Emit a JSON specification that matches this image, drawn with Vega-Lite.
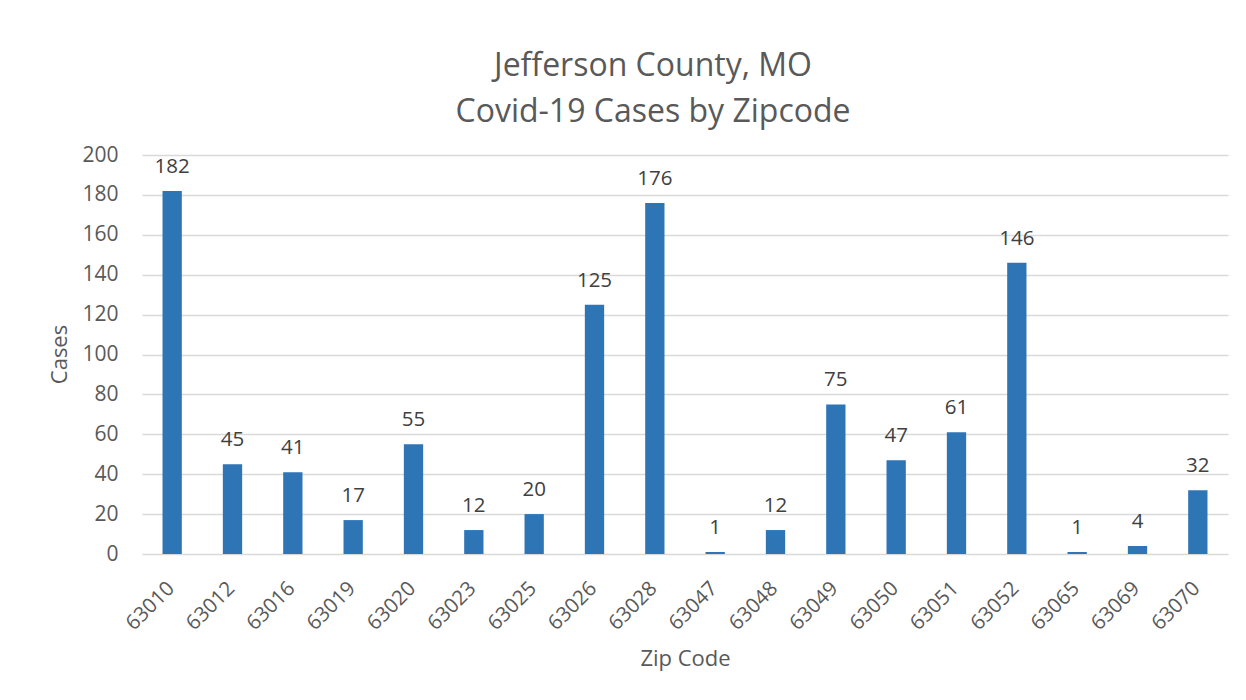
{
  "$schema": "https://vega.github.io/schema/vega-lite/v6.json",
  "width": 1086,
  "height": 399,
  "autosize": {"type": "none"},
  "padding": {"left": 142, "top": 155, "right": 18, "bottom": 146},
  "background": "white",
  "config": {
    "font": "Open Sans",
    "view": {"stroke": null}
  },
  "title": {
    "text": ["Jefferson County, MO", "Covid-19 Cases by Zipcode"],
    "fontSize": 32,
    "fontWeight": "normal",
    "color": "#595959",
    "font": "Open Sans",
    "anchor": "middle",
    "dx": -32,
    "lineHeight": 46,
    "offset": 15
  },
  "data": {
    "values": [
      {"zip": "63010", "cases": 182},
      {"zip": "63012", "cases": 45},
      {"zip": "63016", "cases": 41},
      {"zip": "63019", "cases": 17},
      {"zip": "63020", "cases": 55},
      {"zip": "63023", "cases": 12},
      {"zip": "63025", "cases": 20},
      {"zip": "63026", "cases": 125},
      {"zip": "63028", "cases": 176},
      {"zip": "63047", "cases": 1},
      {"zip": "63048", "cases": 12},
      {"zip": "63049", "cases": 75},
      {"zip": "63050", "cases": 47},
      {"zip": "63051", "cases": 61},
      {"zip": "63052", "cases": 146},
      {"zip": "63065", "cases": 1},
      {"zip": "63069", "cases": 4},
      {"zip": "63070", "cases": 32}
    ]
  },
  "encoding": {
    "x": {
      "field": "zip",
      "type": "nominal",
      "sort": null,
      "scale": {"paddingInner": 0.68, "paddingOuter": 0.34},
      "axis": {
        "title": "Zip Code",
        "labelAngle": -45,
        "labelFontSize": 20.5,
        "labelColor": "#595959",
        "labelPadding": 24,
        "labelOffset": -8,
        "ticks": false,
        "domain": false,
        "titleFontSize": 22,
        "titleFontWeight": "normal",
        "titleColor": "#595959",
        "titleY": 111,
        "titleBaseline": "alphabetic"
      }
    },
    "y": {
      "field": "cases",
      "type": "quantitative",
      "scale": {"domain": [0, 200], "nice": false},
      "axis": {
        "title": "Cases",
        "values": [0, 20, 40, 60, 80, 100, 120, 140, 160, 180, 200],
        "labelFontSize": 21,
        "labelColor": "#595959",
        "labelPadding": 24,
        "ticks": false,
        "domain": false,
        "gridColor": "#d9d9d9",
        "gridWidth": 1.5,
        "titleFontSize": 22,
        "titleFontWeight": "normal",
        "titleColor": "#595959",
        "titleAngle": -90,
        "titleX": -76,
        "titleY": 199,
        "titleAlign": "center",
        "titleBaseline": "alphabetic"
      }
    }
  },
  "layer": [
    {"mark": {"type": "bar", "color": "#2E75B6"}},
    {
      "mark": {"type": "text", "fontSize": 20.5, "color": "#404040", "baseline": "alphabetic", "dy": -18},
      "encoding": {"text": {"field": "cases", "type": "quantitative"}}
    }
  ]
}
